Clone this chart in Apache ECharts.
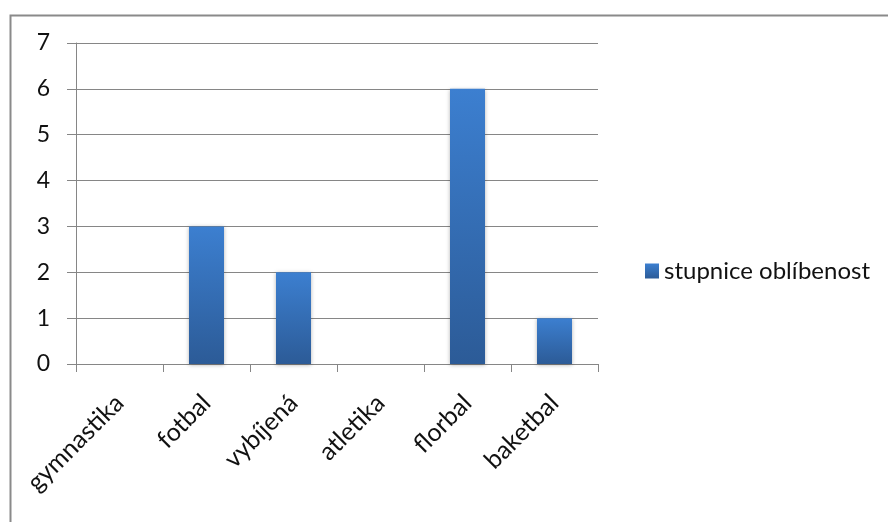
<!DOCTYPE html>
<html>
<head>
<meta charset="utf-8">
<script src="https://cdn.jsdelivr.net/npm/echarts@6/dist/echarts.min.js"></script>
<style>
  html, body { margin: 0; padding: 0; background: #fff; }
  #chart { width: 888px; height: 522px; }
</style>
</head>
<body>
<div id="chart"></div>
<script>
// Oblíbenost sportů
const categories = ['gymnastika', 'fotbal', 'vybíjená', 'atletika', 'florbal', 'baketbal'];
const seriesName = 'stupnice oblíbenost';
const values = [0, 3, 2, 0, 6, 1];
const yTicks = [0, 1, 2, 3, 4, 5, 6, 7];

const FONT = 'Lato';
const axisGray = '#868686';
const textColor = '#111111';

const barFill = new echarts.graphic.LinearGradient(0, 0, 0, 1, [
  { offset: 0, color: '#3c7fd0' },
  { offset: 1, color: '#2c5b97' }
]);

const chart = echarts.init(document.getElementById('chart'), null, { renderer: 'canvas' });

chart.setOption({
  backgroundColor: '#ffffff',
  animation: false,
  graphic: [{
    type: 'rect',
    left: 8, top: 13,
    shape: { width: 900, height: 600 },
    style: { fill: 'none', stroke: '#8a8a8a', lineWidth: 2 },
    silent: true
  }],
  grid: { left: 76, right: 290, top: 43, bottom: 158 },
  legend: {
    left: 640, top: 254,
    icon: 'rect', itemWidth: 14, itemHeight: 15, itemGap: 7,
    textStyle: { fontFamily: FONT, fontSize: 24, color: textColor },
    data: [seriesName]
  },
  xAxis: {
    type: 'category',
    data: categories,
    axisLine: { lineStyle: { color: axisGray, width: 1 } },
    axisTick: { show: true, length: 8, lineStyle: { color: axisGray } },
    axisLabel: {
      rotate: 45, margin: 35, interval: 0,
      fontFamily: FONT, fontSize: 25, color: textColor
    }
  },
  yAxis: {
    type: 'value',
    min: yTicks[0], max: yTicks[yTicks.length - 1], interval: 1,
    axisLine: { show: true, lineStyle: { color: axisGray, width: 1 } },
    axisTick: { show: true, length: 9, lineStyle: { color: axisGray } },
    splitLine: { show: true, lineStyle: { color: axisGray, width: 1 } },
    axisLabel: { margin: 26, fontFamily: FONT, fontSize: 23, color: textColor }
  },
  series: [{
    name: seriesName,
    type: 'bar',
    data: values,
    barWidth: 35,
    itemStyle: {
      color: barFill,
      shadowColor: 'rgba(0,0,0,0.3)',
      shadowBlur: 4,
      shadowOffsetY: 1
    }
  }]
});
</script>
</body>
</html>
